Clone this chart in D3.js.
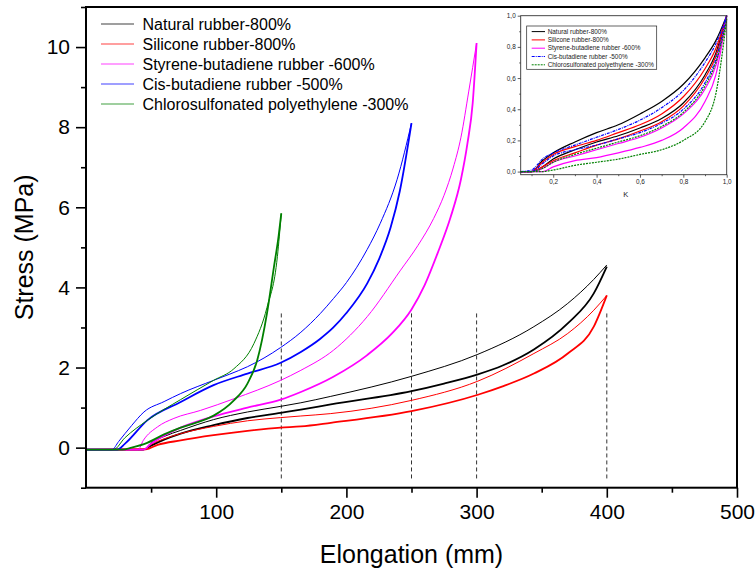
<!DOCTYPE html>
<html><head><meta charset="utf-8">
<script src="https://cdnjs.cloudflare.com/ajax/libs/d3/7.8.5/d3.min.js"></script>
<style>
html,body{margin:0;padding:0;background:#fff;}
svg{display:block;font-family:"Liberation Sans",Arial,sans-serif;}
</style></head>
<body><svg id="chart" width="756" height="574"></svg>
<script>
// ---------------- DATA (main plot) ----------------
const seriesNames = ["Natural rubber-800%","Silicone rubber-800%","Styrene-butadiene rubber -600%","Cis-butadiene rubber -500%","Chlorosulfonated polyethylene -300%"];
const seriesColors = ["#000000","#ff0000","#ff00ff","#0000ff","#008000"];

// Natural rubber
const naturalUpX = [0,44,50,60,72.7,98,124,149.5,165,188,250,301,344,370,390,400];
const naturalUpY = [-0.05,-0.05,0.12,0.28,0.43,0.70,0.89,1.03,1.12,1.28,1.78,2.33,3.02,3.6,4.2,4.56];
const naturalLoX = [0,44,50,60,72.7,98,124,149.5,165,188,250,275,301,320,344,370,390,400];
const naturalLoY = [-0.05,-0.05,0.05,0.2,0.35,0.56,0.74,0.87,0.95,1.08,1.41,1.6,1.83,2.05,2.45,3.1,3.85,4.52];
// Silicone rubber
const siliconeUpX = [0,44,50,60,72.7,98,124,149.5,165,188,250,301,344,370,390,400];
const siliconeUpY = [-0.05,-0.05,0.08,0.22,0.35,0.53,0.67,0.75,0.79,0.85,1.18,1.66,2.35,2.85,3.43,3.8];
const siliconeLoX = [0,46,55,72.7,98,124,149.5,165,188,250,301,320,344,370,390,400];
const siliconeLoY = [-0.05,-0.04,0.07,0.18,0.31,0.42,0.5,0.53,0.62,0.91,1.32,1.53,1.85,2.35,3.02,3.8];
// Styrene-butadiene rubber
const sbrUpX = [0,40,44,55,67.5,88,113.6,149.5,165,190,216,241.6,255,267,275,282,288,294,300];
const sbrUpY = [-0.05,-0.05,0.18,0.52,0.73,0.93,1.22,1.68,1.93,2.43,3.27,4.43,5.05,5.72,6.3,6.98,7.75,8.9,10.1];
const sbrLoX = [0,44,50,60,72.7,98,124,149.5,165,190,216,235,250,260,270,280,288,293,297,300];
const sbrLoY = [-0.05,-0.05,0.1,0.3,0.5,0.78,1.0,1.2,1.39,1.77,2.31,2.85,3.45,4.05,4.85,5.75,6.7,7.6,8.6,10.1];
// Cis-butadiene rubber
const cisUpX = [0,20,25,35,44.5,60,72.7,98,110,124,149.5,165,180,190,200,216,226,239,250];
const cisUpY = [-0.05,-0.05,0.15,0.55,0.89,1.15,1.35,1.68,1.83,2.02,2.5,2.88,3.35,3.72,4.12,4.95,5.6,6.7,8.1];
const cisLoX = [0,24,30,47,72.7,98,124,149.5,165,180,190,200,216,225,234,241,250];
const cisLoY = [-0.05,-0.05,0.1,0.68,1.14,1.56,1.85,2.12,2.39,2.72,3.0,3.36,4.1,4.7,5.5,6.4,8.1];
// Chlorosulfonated polyethylene
const cspeUpX = [0,21,30,47,72.7,98,113.6,129,139,147,150];
const cspeUpY = [-0.05,-0.05,0.25,0.68,1.2,1.68,1.97,2.6,3.5,4.77,5.85];
const cspeLoX = [0,28,35,47,60,72.7,88,98,113.6,124,131.5,139,144.3,148,150];
const cspeLoY = [-0.05,-0.05,0.0,0.12,0.33,0.5,0.66,0.8,1.18,1.6,2.18,3.35,4.5,5.3,5.85];

const markerX = [150,250,300,400];
const markerTop = 3.35, markerBottom = -0.8;

const xTicks = [100,200,300,400,500];
const yTicks = [0,2,4,6,8,10];

// ---------------- DATA (inset) ----------------
const insetNames = seriesNames;
const insetK = [0.05,0.1,0.15,0.2,0.3,0.4,0.5,0.6,0.7,0.8,0.9,0.95,1.0];
const insetNaturalUp  = [0,0,0.07,0.12,0.19,0.25,0.30,0.37,0.45,0.56,0.73,0.84,1.0];
const insetNaturalLo  = [0,0,0.03,0.08,0.14,0.19,0.23,0.28,0.34,0.44,0.62,0.76,1.0];
const insetSiliconeUp = [0,0,0.06,0.11,0.16,0.20,0.25,0.30,0.37,0.48,0.66,0.79,1.0];
const insetSiliconeLo = [0,0,0.03,0.07,0.12,0.17,0.21,0.26,0.32,0.42,0.60,0.74,1.0];
const insetSbrUp      = [0,0,0.02,0.06,0.10,0.14,0.18,0.22,0.28,0.37,0.53,0.68,1.0];
const insetSbrLo      = [0,0,0,0.03,0.07,0.09,0.12,0.155,0.20,0.28,0.45,0.62,1.0];
const insetCisUp      = [0,0.01,0.08,0.12,0.17,0.22,0.27,0.33,0.41,0.52,0.70,0.82,1.0];
const insetCisLo      = [0,0,0.05,0.10,0.14,0.17,0.21,0.25,0.31,0.40,0.57,0.72,1.0];
const insetCspeUp     = [0,0,0.02,0.06,0.11,0.15,0.19,0.23,0.29,0.38,0.55,0.70,0.97];
const insetCspeLo     = [0,0,0,0.01,0.04,0.06,0.08,0.11,0.14,0.20,0.32,0.50,0.98];
const insetXTicks = [0.2,0.4,0.6,0.8,1.0];
const insetYTicks = [0,0.2,0.4,0.6,0.8,1.0];

// ---------------- DRAW ----------------
const svg = d3.select("#chart");
const L = 86, R = 737, T = 7, B = 487.7;
const x = d3.scaleLinear().domain([0,500]).range([L,R]);
const y = d3.scaleLinear().domain([-1,11]).range([B,T]);

const mainSeries = [
  {x:naturalUpX,y:naturalUpY,c:0,w:1},{x:naturalLoX,y:naturalLoY,c:0,w:1.8},
  {x:siliconeUpX,y:siliconeUpY,c:1,w:1},{x:siliconeLoX,y:siliconeLoY,c:1,w:1.8},
  {x:sbrUpX,y:sbrUpY,c:2,w:1},{x:sbrLoX,y:sbrLoY,c:2,w:1.8},
  {x:cisUpX,y:cisUpY,c:3,w:1},{x:cisLoX,y:cisLoY,c:3,w:1.8},
  {x:cspeUpX,y:cspeUpY,c:4,w:1},{x:cspeLoX,y:cspeLoY,c:4,w:1.8}
];
const line = d3.line().x(d=>x(d[0])).y(d=>y(d[1])).curve(d3.curveMonotoneX);

// dashed markers
svg.append("g").selectAll("line").data(markerX).join("line")
  .attr("x1",d=>x(d)).attr("x2",d=>x(d)).attr("y1",y(markerTop)).attr("y2",y(markerBottom))
  .attr("stroke","#333").attr("stroke-width",1).attr("stroke-dasharray","4,3");

svg.append("g").selectAll("path").data(mainSeries).join("path")
  .attr("d",s=>line(s.x.map((v,i)=>[v,s.y[i]])))
  .attr("fill","none").attr("stroke",s=>seriesColors[s.c]).attr("stroke-width",s=>s.w)
  .attr("stroke-linejoin","round");

// axes
const xAxis = svg.append("g").attr("transform",`translate(0,${B})`)
  .call(d3.axisBottom(x).tickValues(xTicks).tickSize(10).tickPadding(6).tickFormat(d3.format("d")));
const xMinor = svg.append("g").attr("transform",`translate(0,${B})`)
  .call(d3.axisBottom(x).tickValues([50,150,250,350,450]).tickSize(5).tickFormat(""));
const yAxis = svg.append("g").attr("transform",`translate(${L},0)`)
  .call(d3.axisLeft(y).tickValues(yTicks).tickSize(10).tickPadding(6).tickFormat(d3.format("d")));
const yMinor = svg.append("g").attr("transform",`translate(${L},0)`)
  .call(d3.axisLeft(y).tickValues([-1,1,3,5,7,9,11]).tickSize(5).tickFormat(""));
[xAxis,xMinor,yAxis,yMinor].forEach(g=>{
  g.select(".domain").remove();
  g.selectAll(".tick line").attr("stroke","#000").attr("stroke-width",1.6);
  g.selectAll("text").attr("font-size",21).attr("fill","#000").attr("font-family","Liberation Sans, Arial, sans-serif");
});
xAxis.selectAll("text").attr("dy","0.71em");
// frame
svg.append("rect").attr("x",L).attr("y",T).attr("width",R-L).attr("height",B-T)
  .attr("fill","none").attr("stroke","#000").attr("stroke-width",2);

// axis titles
svg.append("text").attr("x",(L+R)/2).attr("y",563).attr("text-anchor","middle")
  .attr("font-size",25).text("Elongation (mm)");
svg.append("text").attr("transform",`translate(33,${(T+B)/2}) rotate(-90)`).attr("text-anchor","middle")
  .attr("font-size",25).text("Stress (MPa)");

// legend
const leg = svg.append("g");
seriesNames.forEach((n,i)=>{
  const yy = 24 + i*20;
  leg.append("line").attr("x1",101).attr("x2",134).attr("y1",yy).attr("y2",yy)
    .attr("stroke",seriesColors[i]).attr("stroke-width",1).attr("opacity",0.75);
  leg.append("text").attr("x",142.5).attr("y",yy).attr("dy","0.35em").attr("font-size",16).text(n);
});

// ---------------- INSET ----------------
const iL = 520.7, iR = 726.7, iT = 15.7, iB = 174.7;
const ix = d3.scaleLinear().domain([0.05,1.0]).range([iL,iR]);
const iy = d3.scaleLinear().domain([-0.02,1.0]).range([iB,iT]);
const ins = svg.append("g");
const insetSeries = [
  {v:insetNaturalUp,c:0,d:null},{v:insetNaturalLo,c:0,d:null},
  {v:insetSiliconeUp,c:1,d:null},{v:insetSiliconeLo,c:1,d:null},
  {v:insetSbrUp,c:2,d:null},{v:insetSbrLo,c:2,d:null},
  {v:insetCisUp,c:3,d:"3,1,1,1"},{v:insetCisLo,c:3,d:"3,1,1,1"},
  {v:insetCspeUp,c:4,d:"2,1"},{v:insetCspeLo,c:4,d:"2,1"}
];
const iline = d3.line().x(d=>ix(d[0])).y(d=>iy(d[1])).curve(d3.curveMonotoneX);
ins.selectAll("path.c").data(insetSeries).join("path").attr("class","c")
  .attr("d",s=>iline(insetK.map((k,i)=>[k,s.v[i]])))
  .attr("fill","none").attr("stroke",s=>seriesColors[s.c]).attr("stroke-width",1.2)
  .attr("stroke-dasharray",s=>s.d);
ins.append("rect").attr("x",iL).attr("y",iT).attr("width",iR-iL).attr("height",iB-iT)
  .attr("fill","none").attr("stroke","#333").attr("stroke-width",0.9);
const fmtComma = d=>d3.format(".1f")(d).replace(".",",");
const ixa = ins.append("g").attr("transform",`translate(0,${iB})`)
  .call(d3.axisBottom(ix).tickValues(insetXTicks).tickSize(3).tickPadding(2).tickFormat(fmtComma));
const ixm = ins.append("g").attr("transform",`translate(0,${iB})`)
  .call(d3.axisBottom(ix).tickValues([0.1,0.3,0.5,0.7,0.9]).tickSize(1.5).tickFormat(""));
const iya = ins.append("g").attr("transform",`translate(${iL},0)`)
  .call(d3.axisLeft(iy).tickValues(insetYTicks).tickSize(3).tickPadding(2).tickFormat(fmtComma));
const iym = ins.append("g").attr("transform",`translate(${iL},0)`)
  .call(d3.axisLeft(iy).tickValues([0.1,0.3,0.5,0.7,0.9]).tickSize(1.5).tickFormat(""));
[ixa,ixm,iya,iym].forEach(g=>{
  g.select(".domain").remove();
  g.selectAll(".tick line").attr("stroke","#333").attr("stroke-width",0.8);
  g.selectAll("text").attr("font-size",6.4).attr("fill","#222").attr("font-family","Liberation Sans, Arial, sans-serif");
});
ins.append("text").attr("x",(iL+iR)/2+2).attr("y",197).attr("text-anchor","middle").attr("font-size",7.5).attr("fill","#222").text("K");
// inset legend
ins.append("rect").attr("x",526.7).attr("y",26).attr("width",130).attr("height",43.3)
  .attr("fill","#fff").attr("stroke","#222").attr("stroke-width",0.7);
const insetLegDash = [null,null,null,"3,1,1,1","2,1"];
insetNames.forEach((n,i)=>{
  const yy = 31.6 + i*8.3;
  ins.append("line").attr("x1",531.7).attr("x2",545).attr("y1",yy).attr("y2",yy)
    .attr("stroke",seriesColors[i]).attr("stroke-width",1).attr("stroke-dasharray",insetLegDash[i]);
  ins.append("text").attr("x",547.7).attr("y",yy).attr("dy","0.35em").attr("font-size",6.4).attr("fill","#222").text(n);
});
</script></body></html>
